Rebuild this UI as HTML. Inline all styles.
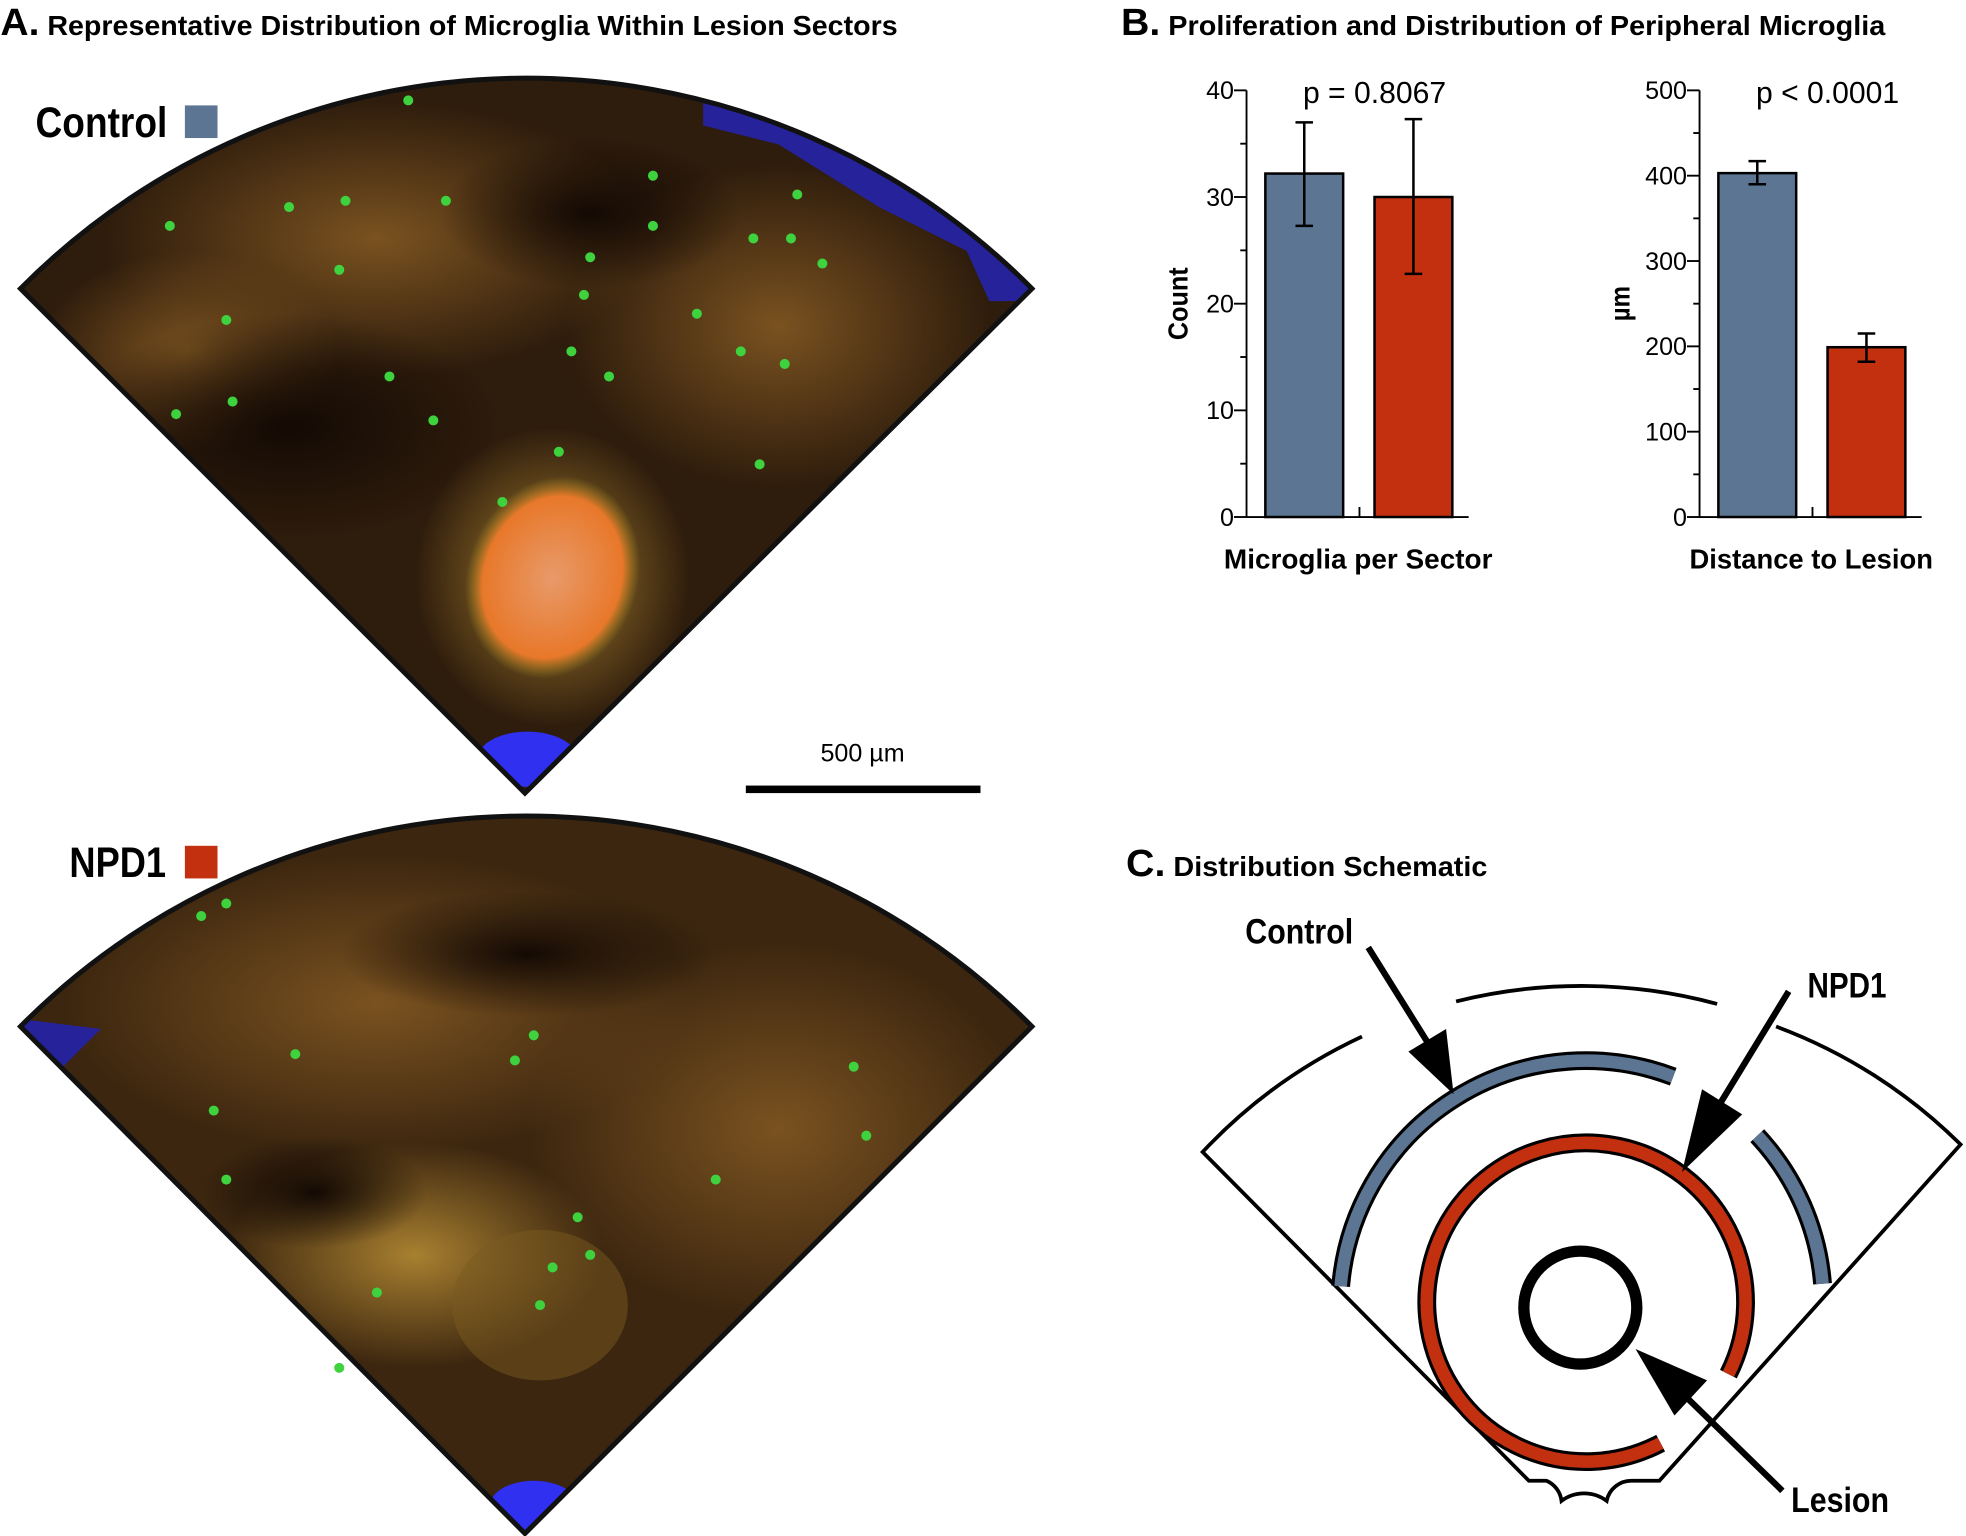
<!DOCTYPE html>
<html><head><meta charset="utf-8"><style>
html,body{margin:0;padding:0;background:#fff}
svg{display:block}
text{font-family:"Liberation Sans",sans-serif}
.t{font-weight:bold;font-size:22px}
.tk{font-family:"Liberation Sans",sans-serif;font-size:20px}
</style></head><body>
<svg id="fig" width="1966" height="1536" viewBox="0 0 1566 1224" xmlns="http://www.w3.org/2000/svg">
<defs>
<clipPath id="fanTop"><path d="M418,632 L16,230 A568,568 0 0 1 822,230 Z"/></clipPath>
<clipPath id="fanBot"><path d="M418,1222 L16,818 A568,568 0 0 1 822,818 Z"/></clipPath>
<radialGradient id="lesion" cx="0.5" cy="0.5" r="0.5"><stop offset="0" stop-color="#e89a6a"/><stop offset="0.8" stop-color="#e8782a"/><stop offset="1" stop-color="#9a8a20" stop-opacity="0"/></radialGradient>
<radialGradient id="glow1" cx="0.5" cy="0.5" r="0.5"><stop offset="0" stop-color="#7a5220"/><stop offset="1" stop-color="#7a5220" stop-opacity="0"/></radialGradient>
<radialGradient id="dark1" cx="0.5" cy="0.5" r="0.5"><stop offset="0" stop-color="#140a04"/><stop offset="1" stop-color="#140a04" stop-opacity="0"/></radialGradient>
<radialGradient id="yel" cx="0.5" cy="0.5" r="0.5"><stop offset="0" stop-color="#a88030"/><stop offset="1" stop-color="#a88030" stop-opacity="0"/></radialGradient>
</defs>

<text x="0" y="28" class="t" textLength="715" lengthAdjust="spacingAndGlyphs"><tspan font-size="30">A.</tspan> Representative Distribution of Microglia Within Lesion Sectors</text>
<text x="893" y="28" class="t" textLength="609" lengthAdjust="spacingAndGlyphs"><tspan font-size="30">B.</tspan> Proliferation and Distribution of Peripheral Microglia</text>
<text x="897" y="698" class="t" textLength="288" lengthAdjust="spacingAndGlyphs"><tspan font-size="30">C.</tspan> Distribution Schematic</text>

<g clip-path="url(#fanTop)">
<rect x="0" y="50" width="840" height="600" fill="#2e1c0c"/>
<ellipse cx="300" cy="190" rx="220" ry="110" fill="url(#glow1)"/>
<ellipse cx="620" cy="260" rx="170" ry="130" fill="url(#glow1)"/>
<ellipse cx="150" cy="280" rx="120" ry="80" fill="url(#glow1)"/>
<ellipse cx="230" cy="340" rx="170" ry="90" fill="url(#dark1)"/>
<ellipse cx="470" cy="170" rx="120" ry="60" fill="url(#dark1)"/>
<ellipse cx="440" cy="460" rx="110" ry="120" fill="url(#yel)"/>
<ellipse cx="440" cy="460" rx="68" ry="82" fill="url(#lesion)" transform="rotate(20 440 460)"/>
<path d="M560,50 L840,50 L840,240 L788,240 L770,200 L700,165 L620,115 L560,100 Z" fill="#26229a"/>
<ellipse cx="420" cy="605" rx="40" ry="22" fill="#3030f0"/>
</g>
<path d="M418,632 L16,230 A568,568 0 0 1 822,230 Z" fill="none" stroke="#111" stroke-width="4"/>

<g clip-path="url(#fanBot)">
<rect x="0" y="640" width="840" height="600" fill="#3c260f"/>
<ellipse cx="300" cy="800" rx="250" ry="120" fill="url(#glow1)"/>
<ellipse cx="620" cy="900" rx="200" ry="150" fill="url(#glow1)"/>
<ellipse cx="330" cy="1000" rx="150" ry="90" fill="url(#yel)"/>
<ellipse cx="250" cy="950" rx="90" ry="45" fill="url(#dark1)"/>
<ellipse cx="420" cy="760" rx="150" ry="50" fill="url(#dark1)"/>
<ellipse cx="430" cy="1040" rx="70" ry="60" fill="#7a5a20" opacity="0.5"/>
<path d="M680,700 L840,760 L840,820 Z" fill="#26229a"/>
<path d="M0,810 L80,820 L40,860 Z" fill="#26229a"/>
<ellipse cx="425" cy="1200" rx="35" ry="20" fill="#3030f0"/>
</g>
<path d="M418,1222 L16,818 A568,568 0 0 1 822,818 Z" fill="none" stroke="#111" stroke-width="4"/>
<g id="dots"></g>

<text x="28" y="109" font-size="34" font-weight="bold" textLength="105" lengthAdjust="spacingAndGlyphs">Control</text>
<rect x="147" y="84" width="26" height="26" fill="#5b7593"/>
<text x="55" y="699" font-size="34" font-weight="bold" textLength="77" lengthAdjust="spacingAndGlyphs">NPD1</text>
<rect x="147" y="674" width="26" height="26" fill="#c2300f"/>

<text x="687" y="607" text-anchor="middle" class="tk">500 µm</text>
<rect x="594" y="626" width="187" height="6" fill="#000"/>

<g id="charts"></g>

<g fill="none" stroke="#000">
<path d="M1085,826 A413,413 0 0 0 958,918 L1218,1180 L1232,1180 A20,20 0 0 1 1244,1196 A30,30 0 0 1 1280,1196 A20,20 0 0 1 1300,1180 L1322,1180 L1562,912 A413,413 0 0 0 1415,818" stroke-width="3"/>
<path d="M1160,798 A413,413 0 0 1 1368,800" stroke-width="3"/>
<path d="M1068,1025 A196,196 0 0 1 1333,858" stroke="#000" stroke-width="15"/>
<path d="M1068,1025 A196,196 0 0 1 1333,858" stroke="#5b7593" stroke-width="10"/>
<path d="M1400,905 A196,196 0 0 1 1452,1023" stroke="#000" stroke-width="15"/>
<path d="M1400,905 A196,196 0 0 1 1452,1023" stroke="#5b7593" stroke-width="10"/>
<path d="M1323,1150 A127,127 0 1 1 1377,1095" stroke="#000" stroke-width="15"/>
<path d="M1323,1150 A127,127 0 1 1 1377,1095" stroke="#c2300f" stroke-width="10"/>
<circle cx="1259" cy="1042" r="45" stroke-width="9"/>
</g>
<g stroke="#000" stroke-width="5" fill="#000">
<line x1="1090" y1="755" x2="1140" y2="835"/><polygon points="1158,872 1122,838 1152,820" stroke="none"/>
<line x1="1425" y1="790" x2="1370" y2="880"/><polygon points="1340,934 1356,868 1388,888" stroke="none"/>
<line x1="1420" y1="1188" x2="1340" y2="1110"/><polygon points="1303,1075 1360,1100 1334,1128" stroke="none"/>
</g>
<text x="992" y="752" font-size="28" font-weight="bold" textLength="86" lengthAdjust="spacingAndGlyphs">Control</text>
<text x="1440" y="795" font-size="28" font-weight="bold" textLength="63" lengthAdjust="spacingAndGlyphs">NPD1</text>
<text x="1427" y="1205" font-size="28" font-weight="bold" textLength="78" lengthAdjust="spacingAndGlyphs">Lesion</text>
</svg>
<script>
const NS="http://www.w3.org/2000/svg";
const groups=["Control","NPD1"];
const countValues=[32.2,30.0];
const countErrLow=[27.3,22.8];
const countErrHigh=[37.0,37.3];
const distValues=[403,199];
const distErrLow=[390,182];
const distErrHigh=[417,215];
const countTicks=[0,10,20,30,40];
const distTicks=[0,100,200,300,400,500];
const colors=["#5b7593","#c2300f"];

function mk(tag,attrs,parent){const e=document.createElementNS(NS,tag);for(const k in attrs)e.setAttribute(k,attrs[k]);parent.appendChild(e);return e;}
const root=document.getElementById('charts');

function chart(opt){
  const g=mk('g',{},root);
  
  
  const x0=opt.x0,yTop=72,yBot=412,max=opt.ticks[opt.ticks.length-1];
  const y=v=>yBot-(v/max)*(yBot-yTop);
  opt.vals.forEach((v,i)=>{
    const bx=x0+15+i*87;
    const r=mk('rect',{x:bx,y:y(v),width:62,height:yBot-y(v),fill:colors[i],stroke:'#000','stroke-width':2},g);
    
    
    const cx=bx+31;
    const eb=mk('path',{d:`M${cx},${y(opt.lo[i])}V${y(opt.hi[i])}M${cx-7},${y(opt.lo[i])}H${cx+7}M${cx-7},${y(opt.hi[i])}H${cx+7}`,stroke:'#000','stroke-width':2,fill:'none'},g);
    
    
  });
  const ax=mk('path',{d:`M${x0},${yTop}V${yBot}H${x0+177}M${x0+90},${yBot}V${yBot-8}`,stroke:'#000','stroke-width':1.5,fill:'none'},g);
  
  
  const step=opt.ticks[1]-opt.ticks[0];
  for(let v=0;v<=max;v+=step/2){
    const major=opt.ticks.includes(v);
    mk('line',{x1:x0-(major?10:5),x2:x0,y1:y(v),y2:y(v),stroke:'#000','stroke-width':1.5},g);
  }
  opt.ticks.forEach(v=>{
    const t=mk('text',{x:x0-10,y:y(v)+7,'text-anchor':'end',class:'tk'},g);
    t.textContent=v;
    
    
  });
  const p=mk('text',{x:x0+102,y:82,'text-anchor':'middle',class:'tk'},g);
  p.style.fontSize='24px';
  p.textContent=opt.p;
  
  
  const yt=mk('text',{x:0,y:0,'text-anchor':'middle','font-size':'22','font-weight':'bold',textLength:opt.ylen,lengthAdjust:'spacingAndGlyphs',transform:`translate(${opt.ylx},242) rotate(-90)`},g);
  yt.textContent=opt.ylab;
  
  
  const xt=mk('text',{x:x0+89,y:453,'text-anchor':'middle','font-size':'22','font-weight':'bold',textLength:opt.xlen,lengthAdjust:'spacingAndGlyphs'},g);
  xt.textContent=opt.xlab;
  
  
}
chart({name:'count-chart',x0:993,vals:countValues,lo:countErrLow,hi:countErrHigh,ticks:countTicks,p:'p = 0.8067',ylab:'Count',ylx:946,ylen:58,xlab:'Microglia per Sector',xlen:214});
chart({name:'distance-chart',x0:1354,vals:distValues,lo:distErrLow,hi:distErrHigh,ticks:distTicks,p:'p < 0.0001',ylab:'µm',ylx:1298,ylen:28,xlab:'Distance to Lesion',xlen:194});

const dotsTop=[[135,180],[180,255],[230,165],[275,160],[270,215],[325,80],[355,160],[465,235],[470,205],[520,180],[520,140],[555,250],[600,190],[630,190],[635,155],[655,210],[590,280],[625,290],[455,280],[485,300],[310,300],[185,320],[140,330],[345,335],[605,370],[445,360],[400,400]];
const dotsBot=[[160,730],[180,720],[425,825],[410,845],[235,840],[680,850],[170,885],[570,940],[690,905],[180,940],[460,970],[470,1000],[440,1010],[430,1040],[300,1030],[270,1090]];
const dg=document.getElementById('dots');
dotsTop.concat(dotsBot).forEach(d=>{
  const c=mk('circle',{cx:d[0],cy:d[1],r:4,fill:'#3ed23e'},dg);
  
  
});
</script>
</body></html>
